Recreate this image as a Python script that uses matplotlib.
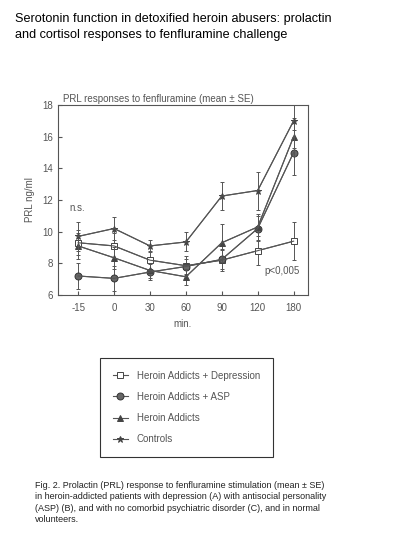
import matplotlib.pyplot as plt
import numpy as np

plt.rcParams['font.family'] = ['Liberation Sans', 'DejaVu Sans']

# data
times = ['-15', '0', '30', '60', '90', '120', '180']

depression = [9.3, 9.1, 8.2, 7.85, 8.2, 8.8, 9.4]
depression_se = [0.8, 0.8, 0.6, 0.6, 0.7, 0.9, 1.2]

asp = [7.2, 7.05, 7.45, 7.8, 8.25, 10.2, 15.0]
asp_se = [0.8, 0.8, 0.5, 0.5, 0.6, 0.8, 1.4]

addicts = [9.1, 8.35, 7.55, 7.15, 9.3, 10.3, 16.0]
addicts_se = [0.8, 0.7, 0.5, 0.5, 1.2, 0.8, 1.2]

controls = [9.7, 10.2, 9.1, 9.35, 12.25, 12.6, 17.0]
controls_se = [0.9, 0.7, 0.4, 0.6, 0.9, 1.2, 1.7]

labels = ['Heroin Addicts + Depression', 'Heroin Addicts + ASP',
          'Heroin Addicts', 'Controls']

gray = '#555555'

fig = plt.figure(figsize=(3.96, 5.52), dpi=100)

fig.text(15 / 396, 1 - 13 / 552,
         'Serotonin function in detoxified heroin abusers: prolactin\n'
         'and cortisol responses to fenfluramine challenge',
         fontsize=9.1, va='top', ha='left', color='black', linespacing=1.45)

ax = fig.add_axes([58 / 396, 1 - 295 / 552, 250 / 396, 190 / 552])
x = np.arange(len(times))

series = [
    (depression, depression_se, dict(marker='s', mfc='white', mec='#444444', ms=5)),
    (asp, asp_se, dict(marker='o', mfc='#666666', mec='#333333', ms=5)),
    (addicts, addicts_se, dict(marker='^', mfc='#444444', mec='#444444', ms=4)),
    (controls, controls_se, dict(marker='*', mfc='#444444', mec='#444444', ms=5)),
]
handles = []
for (vals, se, mk), lab in zip(series, labels):
    ax.errorbar(x, vals, yerr=se, color=gray, lw=0.8, elinewidth=0.7,
                capsize=1.5, capthick=0.7)
    h, = ax.plot(x, vals, color=gray, lw=0.8, mew=0.7, label=lab, **mk)
    handles.append(h)

ax.set_xlim(-0.56, 6.4)
ax.set_ylim(6, 18)
ax.set_xticks(x)
ax.set_xticklabels(times)
ax.set_yticks([6, 8, 10, 12, 14, 16, 18])
ax.tick_params(axis='both', labelsize=7, colors=gray, direction='in', length=3)
ax.tick_params(axis='x', pad=6)
for s in ax.spines.values():
    s.set_color(gray)
    s.set_linewidth(0.8)
ax.set_xlabel('min.', fontsize=7, color=gray, labelpad=4)
ax.set_ylabel('PRL ng/ml', fontsize=7, color=gray, labelpad=5)
ax.set_title('PRL responses to fenfluramine (mean \u00b1 SE)', fontsize=7,
             color=gray, loc='left', pad=2, x=0.02)

ax.text(-0.25, 11.3, 'n.s.', fontsize=7, color=gray)
ax.text(5.2, 7.3, 'p<0,005', fontsize=7, color=gray)

leg = fig.legend(handles=handles, labels=labels, loc='upper left',
                 bbox_to_anchor=(100 / 396, 1 - 358 / 552), fontsize=7,
                 frameon=True, fancybox=False, edgecolor='black',
                 labelspacing=1.15, borderpad=1.3, handlelength=1.6,
                 handletextpad=0.9, borderaxespad=0)
leg.get_frame().set_linewidth(0.8)
for t in leg.get_texts():
    t.set_color(gray)

fig.text(35 / 396, 1 - 481 / 552,
         'Fig. 2. Prolactin (PRL) response to fenfluramine stimulation (mean \u00b1 SE)\n'
         'in heroin-addicted patients with depression (A) with antisocial personality\n'
         '(ASP) (B), and with no comorbid psychiatric disorder (C), and in normal\n'
         'volunteers.',
         fontsize=6.45, va='top', ha='left', color='#222222', linespacing=1.35)

fig.savefig('out.png', dpi=100)
